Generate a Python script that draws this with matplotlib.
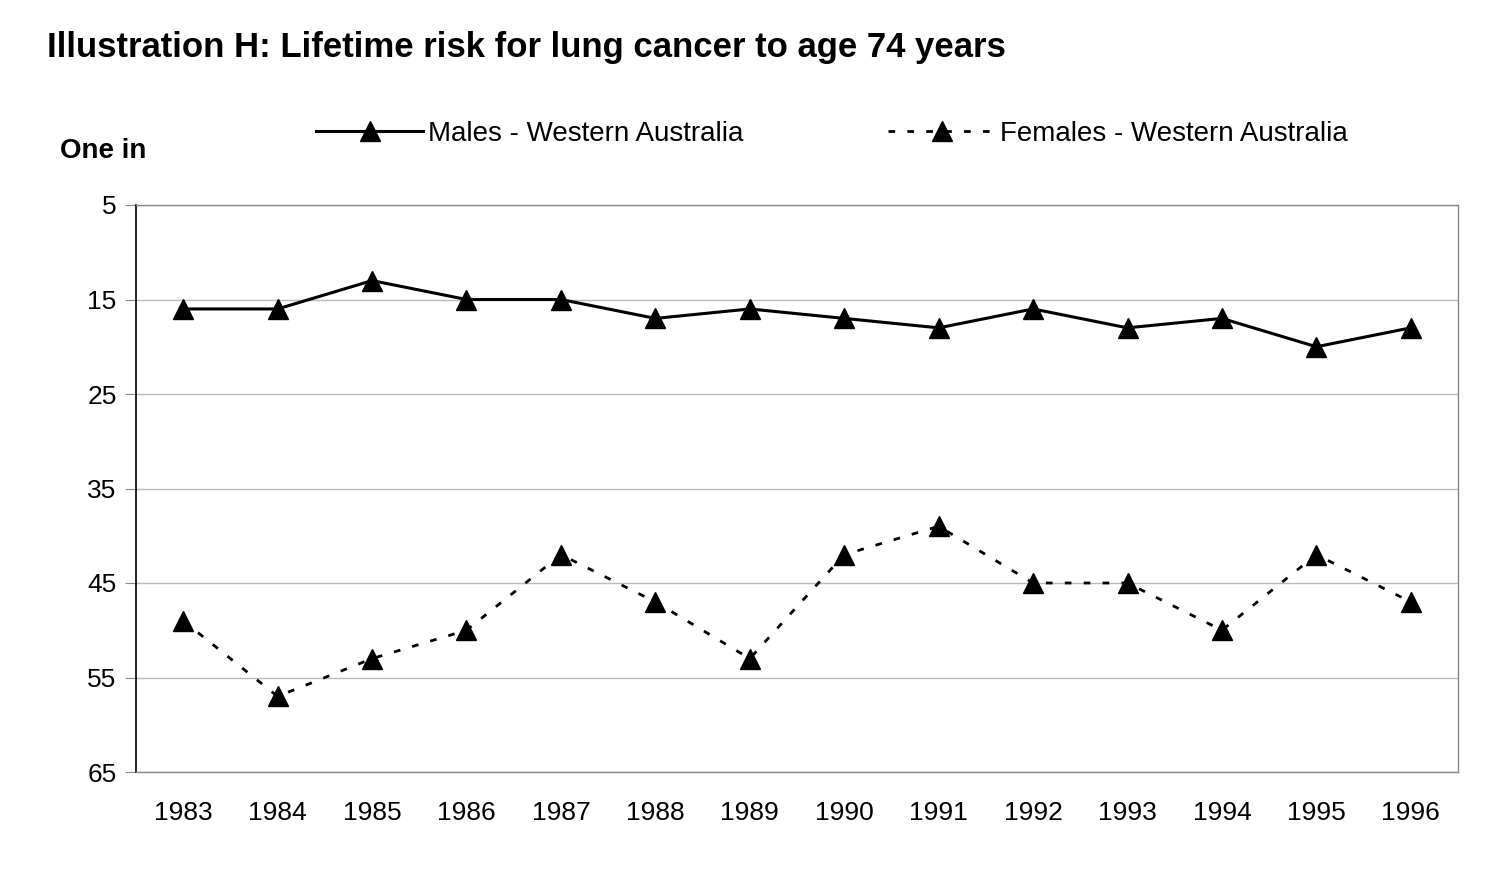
import matplotlib
matplotlib.use("Agg")
import matplotlib.pyplot as plt

years = ["1983", "1984", "1985", "1986", "1987", "1988", "1989",
         "1990", "1991", "1992", "1993", "1994", "1995", "1996"]
males = [16, 16, 13, 15, 15, 17, 16, 17, 18, 16, 18, 17, 20, 18]
females = [49, 57, 53, 50, 42, 47, 53, 42, 39, 45, 45, 50, 42, 47]
yticks = [5, 15, 25, 35, 45, 55, 65]

plt.rcParams['font.family'] = ['Liberation Sans', 'DejaVu Sans']

fig = plt.figure(figsize=(15, 8.93), dpi=100)
ax = fig.add_axes([136/1500, 1-772/893, (1458-136)/1500, (772-205)/893])

x = list(range(len(years)))
ax.plot(x, males, color='black', lw=2.2, marker='^', markersize=15,
        label='Males - Western Australia', zorder=3)
ax.plot(x, females, color='black', lw=2.0, linestyle=(0, (2.4, 4.4)),
        marker='^', markersize=15, label='Females - Western Australia', zorder=3)

ax.set_xlim(-0.5, len(years) - 0.5)
ax.set_ylim(65, 5)
ax.set_yticks(yticks)
ax.set_xticks(x)
ax.set_xticklabels(years)
ax.tick_params(axis='x', length=0, labelsize=19, pad=21)
ax.tick_params(axis='y', length=8, color='#888888', labelsize=19, pad=6)
ax.grid(axis='y', color='#bbbbbb', lw=1)
ax.set_axisbelow(True)
for s in ['top', 'right', 'bottom']:
    ax.spines[s].set_color('#888888')
    ax.spines[s].set_linewidth(1)
ax.spines['left'].set_color('black')
ax.spines['left'].set_linewidth(1.2)

fig.text(47/1500, 1-47/893, 'Illustration H: Lifetime risk for lung cancer to age 74 years',
         fontsize=25, fontweight='bold', ha='left', va='center')
fig.text(60/1500, 1-151/893, 'One in', fontsize=20, fontweight='bold',
         ha='left', va='center')

leg = ax.legend(loc='center', bbox_to_anchor=(832/1500, 1-134/893),
                bbox_transform=fig.transFigure, ncol=2, frameon=False,
                fontsize=20, handlelength=3.85, handletextpad=0.18,
                columnspacing=5.2, borderpad=0)

fig.savefig('out.png', dpi=100)
